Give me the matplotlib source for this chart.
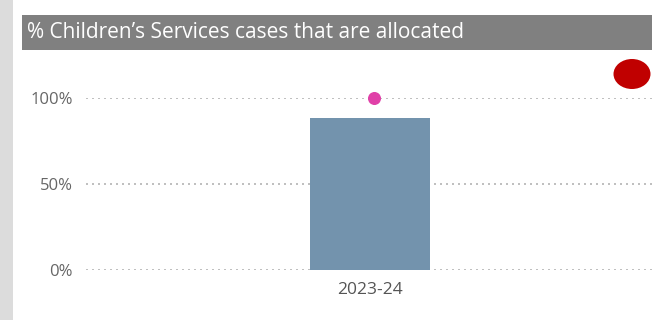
import matplotlib
matplotlib.use("Agg")
import matplotlib.pyplot as plt
from matplotlib.patches import Rectangle, Ellipse

categories = ["2023-24"]
allocated_pct = [88.5]
target_pct = [100]
yticks = [0, 50, 100]
ytick_labels = ["0%", "50%", "100%"]
title = "% Children\u2019s Services cases that are allocated"

plt.rcParams['font.family'] = ['Open Sans', 'DejaVu Sans']

W, H = 652, 320
fig = plt.figure(figsize=(W/100, H/100), dpi=100)
fig.patch.set_facecolor("white")

# left gray strip
fig.patches.append(Rectangle((0, 0), 13/W, 1, transform=fig.transFigure,
                             facecolor="#dcdcdc", edgecolor="none", zorder=0))
# title bar
fig.patches.append(Rectangle((22/W, 1 - 50/H), 1 - 22/W, 35/H, transform=fig.transFigure,
                             facecolor="#808080", edgecolor="none", zorder=0))
fig.text(27/W, 1 - 32/H, title, color="white", fontsize=15, va="center", ha="left")

# RAG indicator ellipse
fig.patches.append(Ellipse((632/W, 1 - 74/H), 37/W, 30/H, transform=fig.transFigure,
                           facecolor="#c00000", edgecolor="none", zorder=5))

ax_left, ax_right = 86, 654
y0, y100 = 270, 98
ax = fig.add_axes([ax_left/W, 1 - y0/H, (ax_right-ax_left)/W, (y0-y100)/H])
ax.set_ylim(0, 100)
ax.set_xlim(-0.5, 0.5)
ax.patch.set_alpha(0)
for s in ax.spines.values():
    s.set_visible(False)

x = list(range(len(categories)))
ax.bar(x, allocated_pct, width=0.213, color="#7393ad", zorder=2)
ax.scatter([xi + 0.007 for xi in x], target_pct, s=70, color="#e040a8", zorder=4, clip_on=False)

ax.set_yticks(yticks)
ax.set_yticklabels(ytick_labels)
ax.set_xticks(x)
ax.set_xticklabels(categories)
ax.tick_params(axis="y", length=0, pad=9.4, labelsize=12, labelcolor="#666666")
ax.tick_params(axis="x", length=0, pad=8.5, labelsize=12.5, labelcolor="#555555")
ax.grid(axis="y", color="#c0c0c0", linestyle=(0, (1, 2)), linewidth=1.44, zorder=1)
ax.set_axisbelow(True)

fig.savefig("out.png", dpi=100)
